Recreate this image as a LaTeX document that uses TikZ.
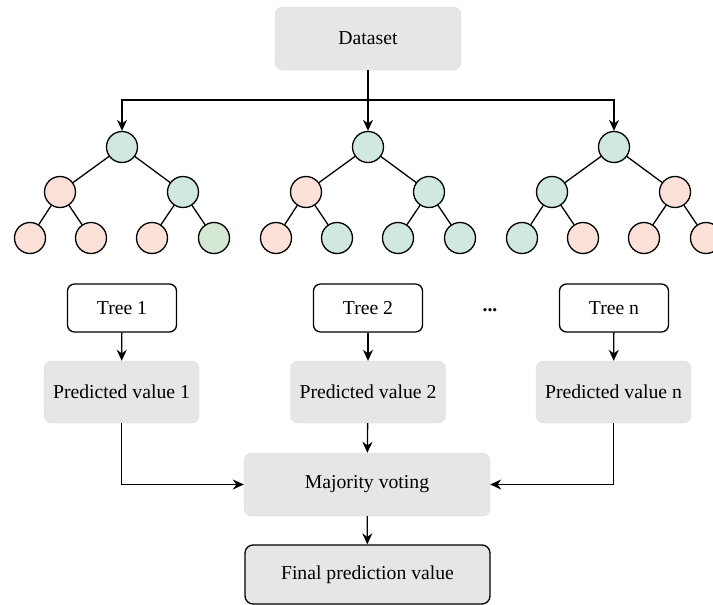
\documentclass[tikz,border=0pt]{standalone}
\usepackage{fontspec}
\newfontfamily\boxfont{Liberation Serif}
\usepackage{xcolor}
\usetikzlibrary{arrows.meta}

\definecolor{boxgray}{HTML}{E6E6E6}
\definecolor{leafpink}{HTML}{FCE1D9}
\definecolor{leafgreen}{HTML}{D1E8DF}
\definecolor{paleGreen}{HTML}{D5E8D4}

\begin{document}
\begin{tikzpicture}
      [ x=1pt, y=-1pt
      , font=\boxfont\fontsize{19.7}{24}\selectfont
      , softBox/.style={fill=boxgray, draw=boxgray!95!black, rounded corners=8pt, minimum width=155pt, minimum height=62pt, inner sep=0pt}
      , treeBox/.style={fill=white, draw=black, line width=1.3pt, rounded corners=7pt, minimum width=109pt, minimum height=48pt, inner sep=0pt}
      , pink/.style={circle, draw=black, line width=1.3pt, fill=leafpink, minimum size=31pt, inner sep=0pt}
      , green/.style={circle, draw=black, line width=1.3pt, fill=leafgreen, minimum size=31pt, inner sep=0pt}
      , branch/.style={draw=black, line width=1.3pt}
      , flow/.style={draw=black, line width=1.3pt, -{Stealth[length=11pt, width=10pt]}}
      ]
    \useasboundingbox (0,0) rectangle (713,605);

    \node[softBox, minimum width=186pt, minimum height=63pt] (DS) at (368,38.5) {Dataset};
    \coordinate (split) at (368,100);

    % tree 1
    \node[green] (A) at (122,147) {};
    \node[pink] (AL) at (60,192) {};
    \node[green] (AR) at (183,192) {};
    \node[pink] (ALL) at (30,238) {};
    \node[pink] (ALR) at (91,238) {};
    \node[pink] (ARL) at (152,238) {};
    \node[green, fill=paleGreen] (ARR) at (214,238) {};

    % tree 2
    \node[green] (B) at (368,147) {};
    \node[pink] (BL) at (306,192) {};
    \node[green] (BR) at (429,192) {};
    \node[pink] (BLL) at (276,238) {};
    \node[green] (BLR) at (337,238) {};
    \node[green] (BRL) at (398,238) {};
    \node[green] (BRR) at (460,238) {};

    % tree n
    \node[green] (C) at (614,147) {};
    \node[green] (CL) at (552,192) {};
    \node[pink] (CR) at (675,192) {};
    \node[green] (CLL) at (522,238) {};
    \node[pink] (CLR) at (583,238) {};
    \node[pink] (CRL) at (644,238) {};
    \node[pink] (CRR) at (706,238) {};

    \draw[branch]
    (A) edge (AL) (A) edge (AR)
    (AL) edge (ALL) (AL) edge (ALR)
    (AR) edge (ARL) (AR) edge (ARR)

    (B) edge (BL) (B) edge (BR)
    (BL) edge (BLL) (BL) edge (BLR)
    (BR) edge (BRL) (BR) edge (BRR)

    (C) edge (CL) (C) edge (CR)
    (CL) edge (CLL) (CL) edge (CLR)
    (CR) edge (CRL) (CR) edge (CRR);

    \draw[branch] (DS) -- (split);
    \draw[flow] (split) -| (A);
    \draw[flow] (split) -- (B);
    \draw[flow] (split) -| (C);

    \node[treeBox] (T1) at (122,308) {Tree 1};
    \node[treeBox] (T2) at (368,308) {Tree 2};
    \node[treeBox] (Tn) at (614,308) {Tree n};
    \node (dots) at (490,310) {\textbf{...}};

    \node[softBox] (P1) at (121.5,392) {Predicted value 1};
    \node[softBox] (P2) at (368,392) {Predicted value 2};
    \node[softBox] (Pn) at (613.5,392) {Predicted value n};

    \node[softBox, minimum width=246pt, minimum height=63pt] (MV) at (367,484.5) {Majority voting};
    \node[softBox, draw=black, line width=1.3pt, minimum width=245pt, minimum height=59pt] (FP) at (367.5,574.5) {Final prediction value};

    \draw[flow]
    (T1) edge (P1)
    (T2) edge (P2)
    (Tn) edge (Pn)
    (P2) edge (MV)
    (MV) edge (FP);

    \draw[flow] (P1) |- (MV);
    \draw[flow] (Pn) |- (MV);

  \end{tikzpicture}
\end{document}
